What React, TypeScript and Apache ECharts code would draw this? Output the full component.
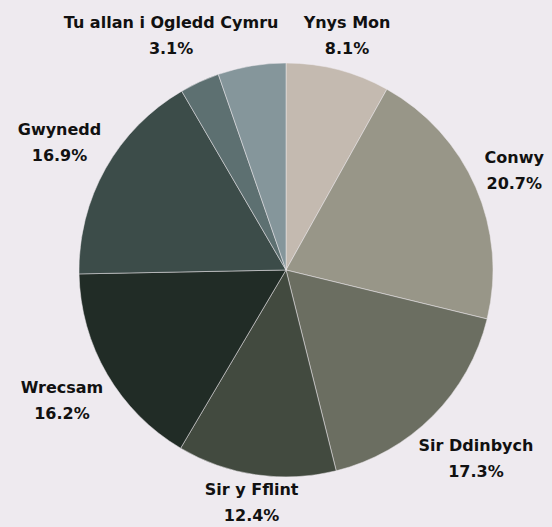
import React, { useEffect, useRef } from "react";
import * as echarts from "echarts";

const categories = [
  "Ynys Mon",
  "Conwy",
  "Sir Ddinbych",
  "Sir y Fflint",
  "Wrecsam",
  "Gwynedd",
  "Tu allan i Ogledd Cymru",
  "Arall",
];
const values = [8.1, 20.7, 17.3, 12.4, 16.2, 16.9, 3.1, 5.3];
const showLabel = [true, true, true, true, true, true, true, false];
const colors = [
  "#c4bab0",
  "#989688",
  "#6b6e61",
  "#424a3f",
  "#212c26",
  "#3c4c49",
  "#5d7071",
  "#85969b",
];

const W = 552;
const H = 527;
const CX = 286;
const CY = 270;
const R = 207;
const GAP = 8;

export default function App() {
  const ref = useRef<HTMLDivElement>(null);
  useEffect(() => {
    if (!ref.current) return;
    const chart = echarts.init(ref.current, null, { renderer: "svg" });
    const total = values.reduce((a, b) => a + b, 0);
    const mids: number[] = [];
    let cum = 0;
    values.forEach((v) => {
      mids.push(((cum + v / 2) / total) * Math.PI * 2);
      cum += v;
    });
    chart.setOption({
      animation: false,
      backgroundColor: "#eeeaef",
      series: [
        {
          type: "pie",
          center: [CX, CY],
          radius: R,
          startAngle: 90,
          clockwise: true,
          avoidLabelOverlap: false,
          itemStyle: { borderColor: "#eeeaef", borderWidth: 0.5 },
          label: {
            show: true,
            position: "outside",
            formatter: (p: any) => `${p.name}\n${p.value}%`,
            fontFamily: "DejaVu Sans",
            fontWeight: "bold",
            fontSize: 16,
            lineHeight: 26,
            color: "#111111",
            align: "center",
          },
          labelLine: { show: false },
          labelLayout: (params: any) => {
            const i = params.dataIndex;
            const th = mids[i];
            const vx = Math.sin(th);
            const vy = -Math.cos(th);
            const w = params.labelRect.width;
            const h = params.labelRect.height;
            const d =
              R + GAP + (w / 2) * Math.abs(vx) + h * 0.33 * Math.abs(vy);
            let y = CY + d * vy;
            y = Math.max(y, h / 2 + 9);
            y = Math.min(y, H - h / 2 + 1);
            let x = CX + d * vx;
            x = Math.max(Math.min(x, W - w / 2 - 2), w / 2 + 2);
            return {
              x,
              y,
              align: "center",
              verticalAlign: "middle",
            };
          },
          data: categories.map((name, i) => ({
            name,
            value: values[i],
            itemStyle: { color: colors[i] },
            label: { show: showLabel[i] },
          })),
        },
      ],
    });
    return () => chart.dispose();
  }, []);
  return (
    <div
      ref={ref}
      style={{ position: "fixed", left: 0, top: 0, width: W, height: H }}
    />
  );
}
